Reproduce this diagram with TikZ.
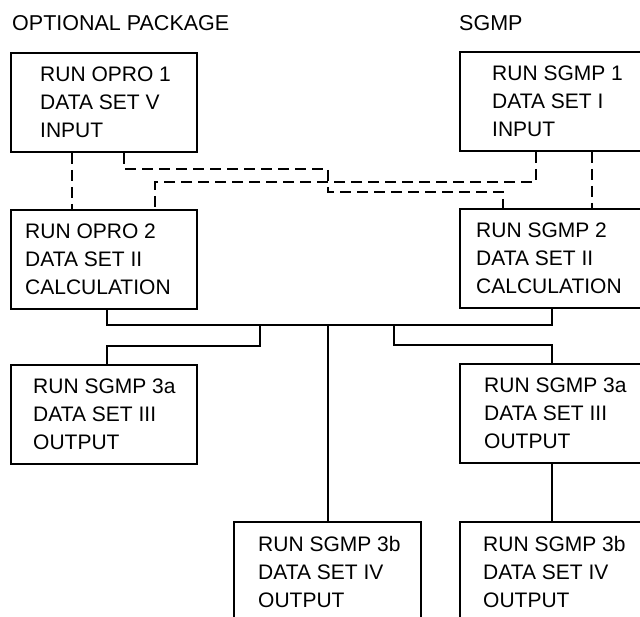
\documentclass[tikz,border=0pt]{standalone}
\usepackage{fontspec}
\setmainfont{Liberation Sans}
\begin{document}
\begin{tikzpicture}[
  x=1pt, y=-1pt,
  caja/.style={draw=black, line width=2pt, minimum width=186pt, minimum height=99pt, anchor=north west, inner sep=0pt},
  texto/.style={anchor=west, align=left, inner sep=0pt, font=\fontsize{21}{28}\selectfont},
  titulo/.style={anchor=west, inner sep=0pt, font=\fontsize{21.5}{25}\selectfont},
  linea/.style={line width=1.5pt},
  discont/.style={linea, dash pattern=on 11pt off 6pt}
]
\useasboundingbox (0,0) rectangle (640,617);
\clip (0,0) rectangle (640,617);

\node[titulo] (opcional) at (12,23) {OPTIONAL PACKAGE};
\node[titulo] (sgmp) at (459,23) {SGMP};

\node[caja] (opro1) at (10,52) {};
\node[caja] (sgmp1) at (459,51) {};
\node[caja] (opro2) at (10,209) {};
\node[caja] (sgmp2) at (459,208) {};
\node[caja] (izq3a) at (10,364) {};
\node[caja] (der3a) at (459,363) {};
\node[caja, minimum width=187pt] (med3b) at (233,521) {};
\node[caja] (der3b) at (459,521) {};

\node[texto] (opro1t) at ([xshift=30pt]opro1.west) {RUN OPRO 1\\DATA SET V\\INPUT};
\node[texto] (sgmp1t) at ([xshift=33pt]sgmp1.west) {RUN SGMP 1\\DATA SET I\\INPUT};
\node[texto] (opro2t) at ([xshift=15pt]opro2.west) {RUN OPRO 2\\DATA SET II\\CALCULATION};
\node[texto] (sgmp2t) at ([xshift=17pt]sgmp2.west) {RUN SGMP 2\\DATA SET II\\CALCULATION};
\node[texto] (izq3at) at ([xshift=23pt]izq3a.west) {RUN SGMP 3a\\DATA SET III\\OUTPUT};
\node[texto] (der3at) at ([xshift=25pt]der3a.west) {RUN SGMP 3a\\DATA SET III\\OUTPUT};
\node[texto] (med3bt) at ([xshift=25pt]med3b.west) {RUN SGMP 3b\\DATA SET IV\\OUTPUT};
\node[texto] (der3bt) at ([xshift=24pt]der3b.west) {RUN SGMP 3b\\DATA SET IV\\OUTPUT};

\draw[discont] ([xshift=62pt]opro1.south west) -- ([xshift=62pt]opro2.north west);
\draw[discont] ([xshift=133pt]sgmp1.south west) -- ([xshift=133pt]sgmp2.north west);
\draw[discont] ([xshift=114pt]opro1.south west) -- ++(0,16) -| (328,192) -| ([xshift=44pt]sgmp2.north west);
\draw[discont] ([xshift=77pt]sgmp1.south west) -- ++(0,30) -| ([xshift=145pt]opro2.north west);

\draw[linea] ([xshift=97pt]opro2.south west) -- ++(0,15) coordinate (bus) -| ([xshift=93pt]sgmp2.south west);
\draw[linea] (bus -| 260,0) -- (260,346) -| ([xshift=97pt]izq3a.north west);
\draw[linea] (bus -| 328,0) -- (328,0 |- med3b.north);
\draw[linea] (bus -| 394,0) -- (394,345) -| ([xshift=93pt]der3a.north west);
\draw[linea] ([xshift=93pt]der3a.south west) -- ([xshift=93pt]der3b.north west);
\end{tikzpicture}
\end{document}
